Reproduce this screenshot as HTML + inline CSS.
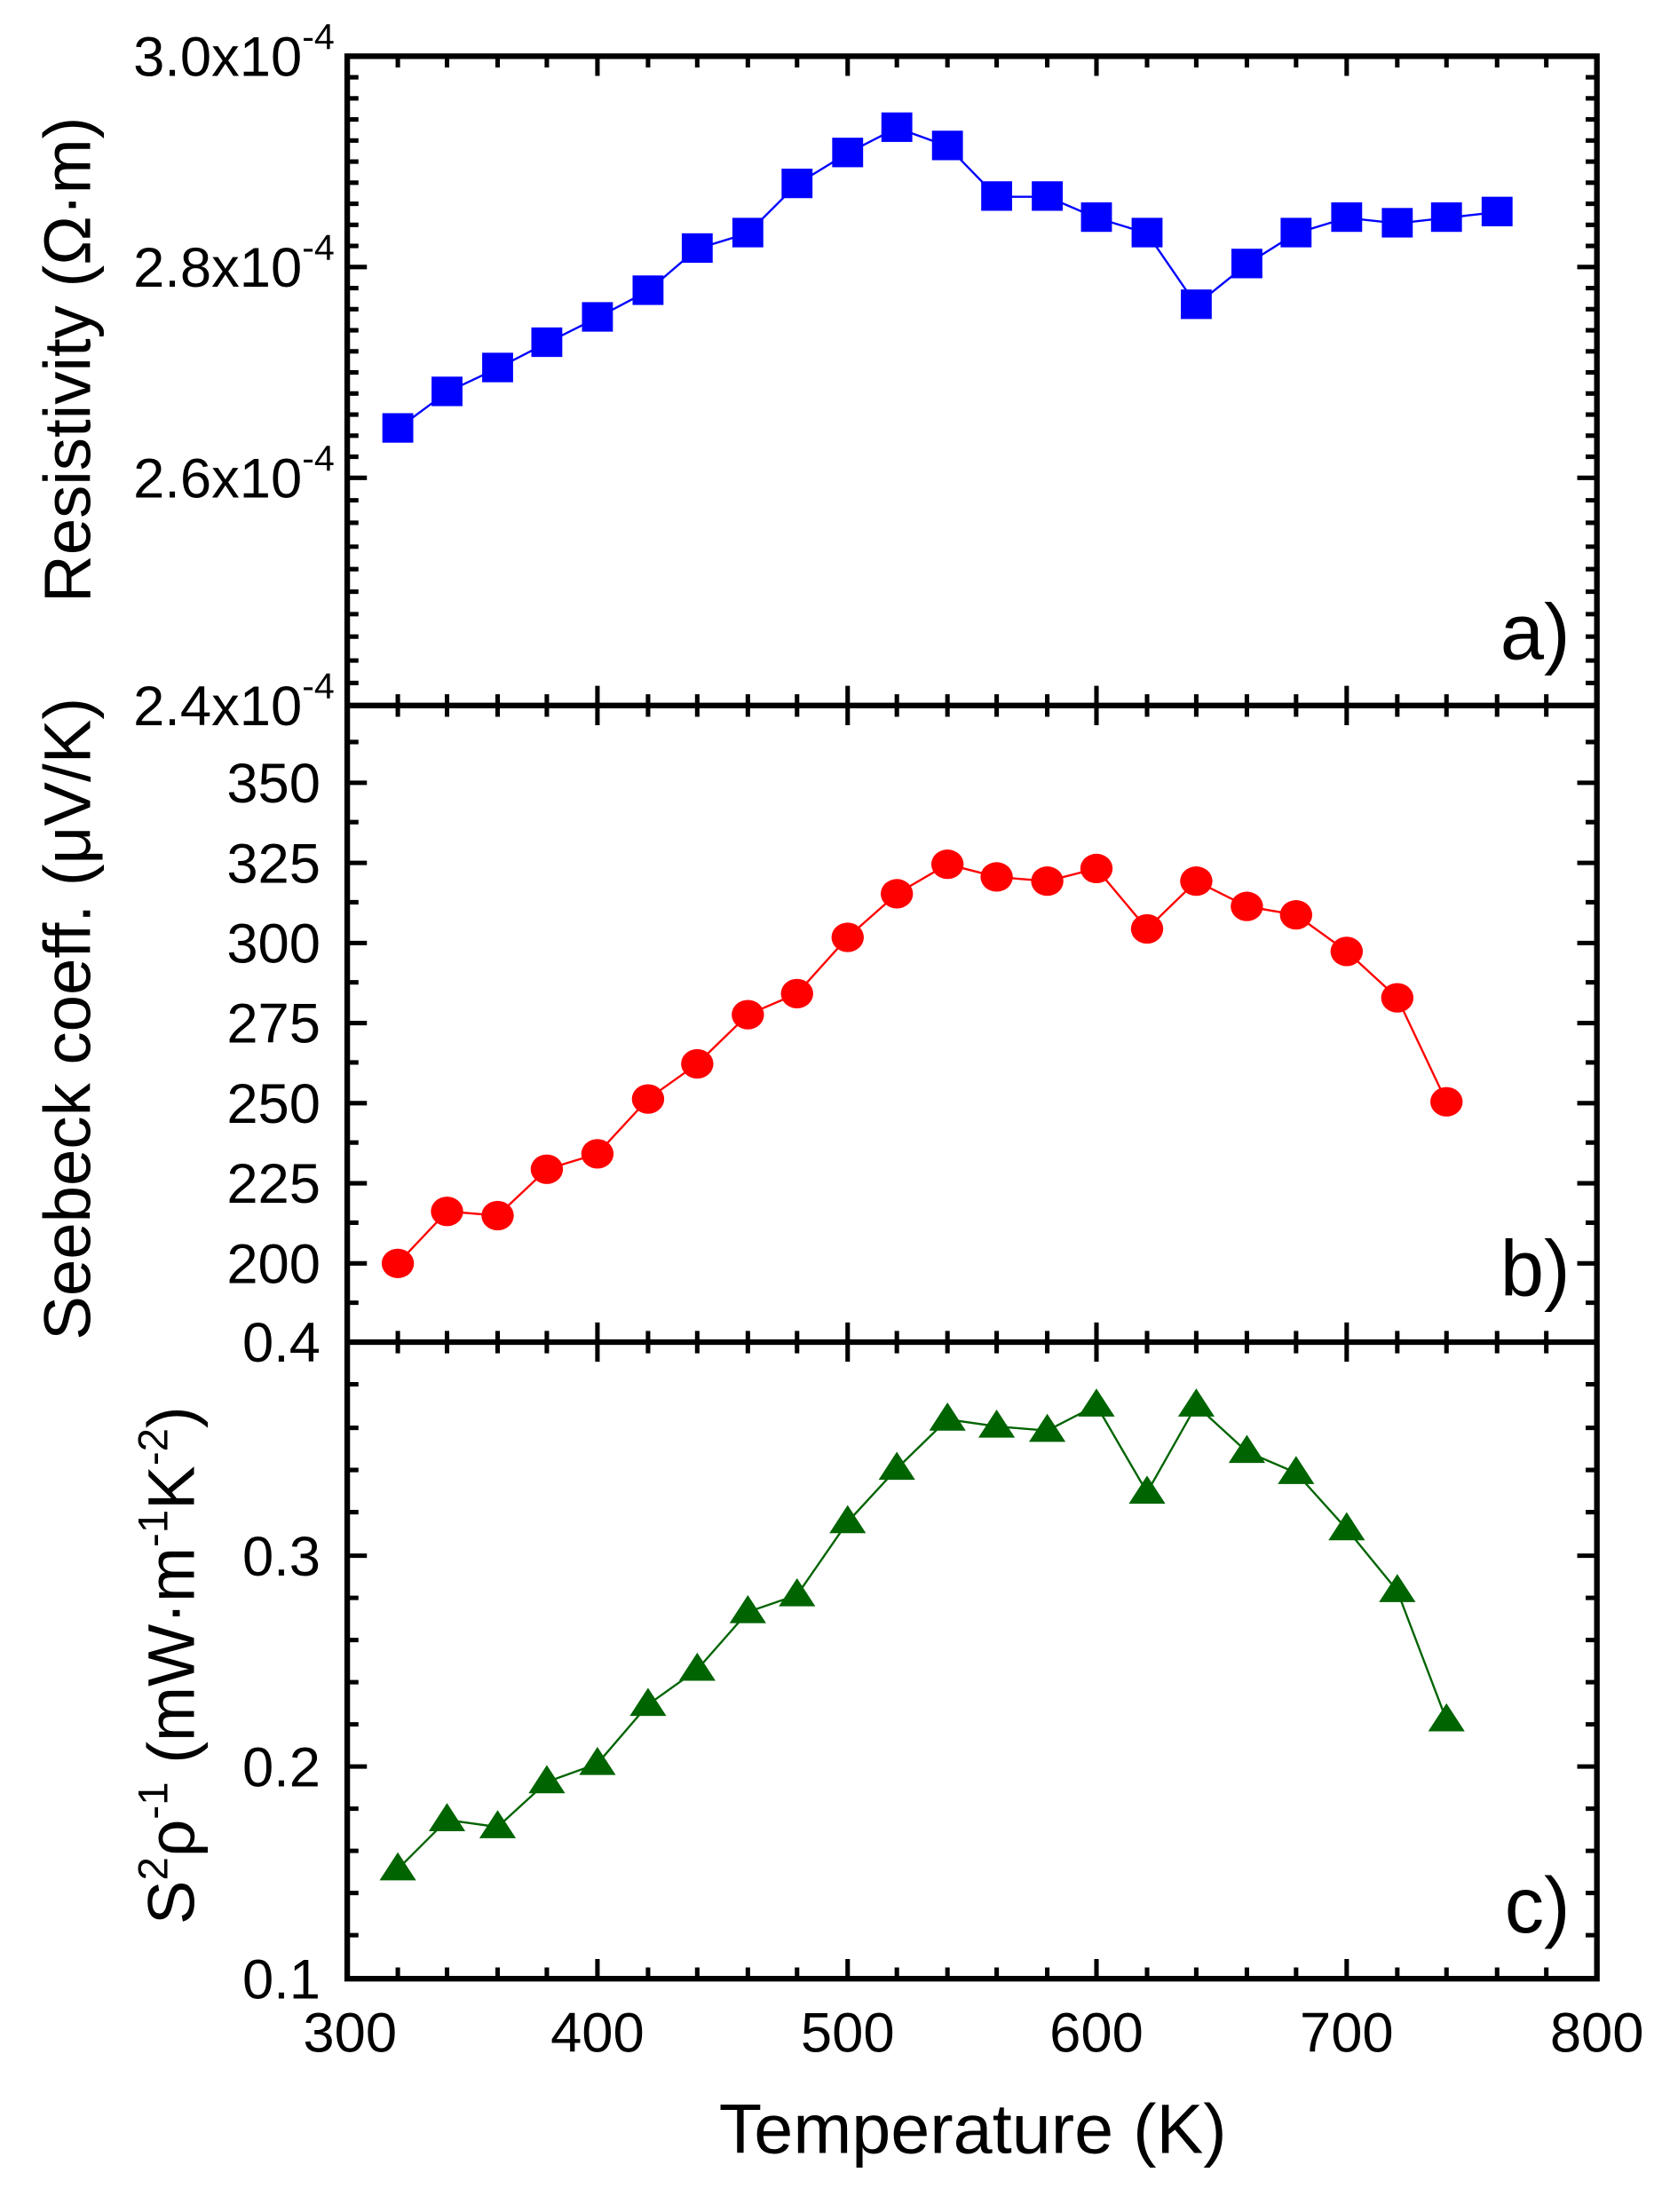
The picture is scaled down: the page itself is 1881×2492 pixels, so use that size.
<!DOCTYPE html>
<html><head><meta charset="utf-8"><style>html,body{margin:0;padding:0;background:#fff}svg{display:block}</style></head><body>
<svg width="1881" height="2492" viewBox="0 0 1188 1574" preserveAspectRatio="none" xmlns="http://www.w3.org/2000/svg" font-family="Liberation Sans, Arial, sans-serif">
<defs>
<marker id="sq" markerUnits="userSpaceOnUse" markerWidth="24" markerHeight="24" refX="12" refY="12"><rect x="1" y="1" width="22" height="21" fill="#0000ff"/></marker>
<marker id="ci" markerUnits="userSpaceOnUse" markerWidth="26" markerHeight="26" refX="13" refY="13"><ellipse cx="13" cy="13" rx="11.5" ry="10.5" fill="#ff0000"/></marker>
<marker id="tr" markerUnits="userSpaceOnUse" markerWidth="30" markerHeight="30" refX="15" refY="15"><polygon points="15,3 28,23 2,23" fill="#006400"/></marker>
</defs>
<g stroke="#000" stroke-width="4" fill="none">
<rect x="247" y="40" width="889" height="1368"/>
<line x1="247" y1="502" x2="1136" y2="502"/>
<line x1="247" y1="955" x2="1136" y2="955"/>
</g>
<g stroke="#000" stroke-width="3.2">
<path d="M425,40v14M603,40v14M780,40v14M958,40v14 M425,488v28M603,488v28M780,488v28M958,488v28 M425,941v28M603,941v28M780,941v28M958,941v28 M425,1408v-14M603,1408v-14M780,1408v-14M958,1408v-14"/>
<path d="M283,40v8M318,40v8M354,40v8M389,40v8M461,40v8M496,40v8M532,40v8M567,40v8M638,40v8M674,40v8M709,40v8M745,40v8M816,40v8M851,40v8M887,40v8M922,40v8M994,40v8M1029,40v8M1065,40v8M1100,40v8
M283,494v16M318,494v16M354,494v16M389,494v16M461,494v16M496,494v16M532,494v16M567,494v16M638,494v16M674,494v16M709,494v16M745,494v16M816,494v16M851,494v16M887,494v16M922,494v16M994,494v16M1029,494v16M1065,494v16M1100,494v16
M283,947v16M318,947v16M354,947v16M389,947v16M461,947v16M496,947v16M532,947v16M567,947v16M638,947v16M674,947v16M709,947v16M745,947v16M816,947v16M851,947v16M887,947v16M922,947v16M994,947v16M1029,947v16M1065,947v16M1100,947v16
M283,1408v-8M318,1408v-8M354,1408v-8M389,1408v-8M461,1408v-8M496,1408v-8M532,1408v-8M567,1408v-8M638,1408v-8M674,1408v-8M709,1408v-8M745,1408v-8M816,1408v-8M851,1408v-8M887,1408v-8M922,1408v-8M994,1408v-8M1029,1408v-8M1065,1408v-8M1100,1408v-8"/>
<path d="M247,190h14M247,340h14M1136,190h-14M1136,340h-14
M247,899h14M247,842h14M247,785h14M247,728h14M247,671h14M247,614h14M247,557h14
M1136,899h-14M1136,842h-14M1136,785h-14M1136,728h-14M1136,671h-14M1136,614h-14M1136,557h-14
M247,1257h14M247,1107h14M1136,1257h-14M1136,1107h-14"/>
<path d="M247,55h8M247,70h8M247,85h8M247,100h8M247,115h8M247,130h8M247,145h8M247,160h8M247,175h8M247,205h8M247,220h8M247,235h8M247,250h8M247,265h8M247,280h8M247,295h8M247,310h8M247,325h8M247,356h8M247,372h8M247,389h8M247,405h8M247,421h8M247,437h8M247,453h8M247,470h8M247,486h8
M1136,55h-8M1136,70h-8M1136,85h-8M1136,100h-8M1136,115h-8M1136,130h-8M1136,145h-8M1136,160h-8M1136,175h-8M1136,205h-8M1136,220h-8M1136,235h-8M1136,250h-8M1136,265h-8M1136,280h-8M1136,295h-8M1136,310h-8M1136,325h-8M1136,356h-8M1136,372h-8M1136,389h-8M1136,405h-8M1136,421h-8M1136,437h-8M1136,453h-8M1136,470h-8M1136,486h-8
M247,927h8M247,870h8M247,813h8M247,756h8M247,699h8M247,642h8M247,585h8M247,528h8
M1136,927h-8M1136,870h-8M1136,813h-8M1136,756h-8M1136,699h-8M1136,642h-8M1136,585h-8M1136,528h-8
M247,985h8M247,1016h8M247,1046h8M247,1076h8M247,1137h8M247,1167h8M247,1197h8M247,1227h8M247,1287h8M247,1317h8M247,1347h8M247,1377h8
M1136,985h-8M1136,1016h-8M1136,1046h-8M1136,1076h-8M1136,1137h-8M1136,1167h-8M1136,1197h-8M1136,1227h-8M1136,1287h-8M1136,1317h-8M1136,1347h-8M1136,1377h-8"/>
</g>
<polyline fill="none" stroke="#0000ff" stroke-width="1.5" marker-start="url(#sq)" marker-mid="url(#sq)" marker-end="url(#sq)"
points="283,305 318,279 354,262 389,244 425,226 461,207 496,177 532,166 567,131 603,109 638,91 674,104 709,140 745,140 780,155 816,166 851,217 887,188 922,166 958,155 994,159 1029,155 1065,151"/>
<polyline fill="none" stroke="#ff0000" stroke-width="1.5" marker-start="url(#ci)" marker-mid="url(#ci)" marker-end="url(#ci)"
points="283,899 318,862 354,865 389,832 425,821 461,782 496,757 532,722 567,707 603,667 638,636 674,615 709,624 745,627 780,618 816,661 851,627 887,645 922,651 958,677 994,710 1029,784"/>
<polyline fill="none" stroke="#006400" stroke-width="1.5" marker-start="url(#tr)" marker-mid="url(#tr)" marker-end="url(#tr)"
points="283,1330 318,1295 354,1300 389,1268 425,1255 461,1213 496,1188 532,1147 567,1135 603,1083 638,1045 674,1010 709,1015 745,1018 780,1000 816,1062 851,1000 887,1033 922,1048 958,1088 994,1132 1029,1224"/>
<g font-size="40" fill="#000" text-anchor="end">
<text x="238" y="54">3.0x10<tspan font-size="26" dy="-19">-4</tspan></text>
<text x="238" y="204">2.8x10<tspan font-size="26" dy="-19">-4</tspan></text>
<text x="238" y="354">2.6x10<tspan font-size="26" dy="-19">-4</tspan></text>
<text x="238" y="516">2.4x10<tspan font-size="26" dy="-19">-4</tspan></text>
<text x="228" y="913">200</text><text x="228" y="856">225</text><text x="228" y="799">250</text><text x="228" y="742">275</text><text x="228" y="685">300</text><text x="228" y="628">325</text><text x="228" y="571">350</text>
<text x="228" y="969">0.4</text><text x="228" y="1121">0.3</text><text x="228" y="1271">0.2</text><text x="228" y="1422">0.1</text>
</g>
<g font-size="40" fill="#000" text-anchor="middle">
<text x="249" y="1460">300</text><text x="425" y="1460">400</text><text x="603" y="1460">500</text><text x="780" y="1460">600</text><text x="958" y="1460">700</text><text x="1136" y="1460">800</text>
<text x="692" y="1532" font-size="50">Temperature (K)</text>
<text transform="translate(64,256) rotate(-90)" font-size="47">Resistivity (Ω·m)</text>
<text transform="translate(64,725) rotate(-90)" font-size="47">Seebeck coeff. (μV/K)</text>
<text transform="translate(138,1185) rotate(-90)" font-size="47">S<tspan font-size="30" dy="-19">2</tspan><tspan dy="19">ρ</tspan><tspan font-size="30" dy="-19">-1</tspan><tspan dy="19"> (mW·m</tspan><tspan font-size="30" dy="-19">-1</tspan><tspan dy="19">K</tspan><tspan font-size="30" dy="-19">-2</tspan><tspan dy="19">)</tspan></text>
</g>
<g font-size="56" fill="#000" text-anchor="end">
<text x="1117" y="469">a)</text>
<text x="1117" y="922">b)</text>
<text x="1117" y="1375">c)</text>
</g>
</svg>
</body></html>
